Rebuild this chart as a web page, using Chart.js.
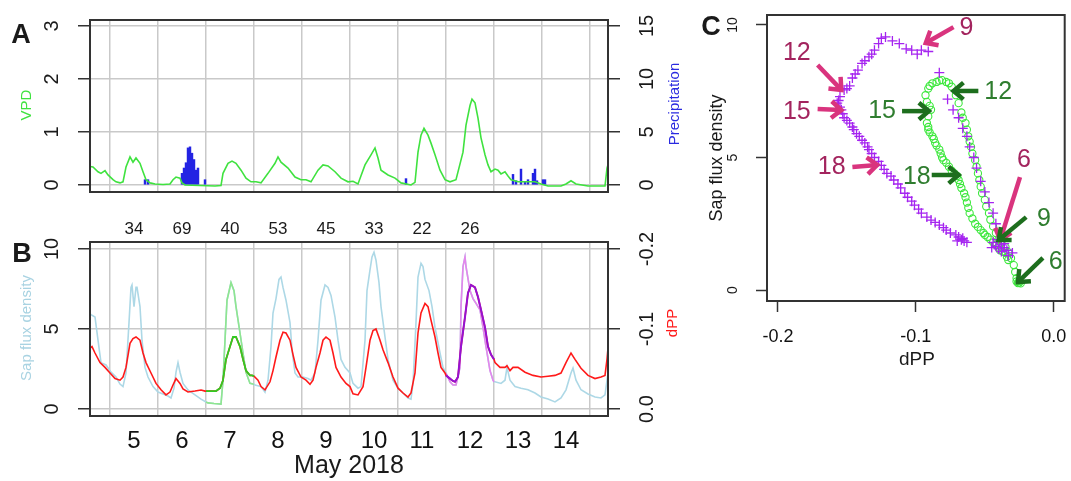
<!DOCTYPE html>
<html><head><meta charset="utf-8">
<script src="https://cdn.jsdelivr.net/npm/chart.js@4.4.0/dist/chart.umd.min.js"></script>
<style>
html,body{margin:0;padding:0;background:#fff;}
#wrap{position:relative;width:1071px;height:481px;overflow:hidden;background:#fff;}
canvas{position:absolute;}
</style></head><body>
<div id="wrap">
<canvas id="cA" width="700" height="200" style="left:0;top:0;width:700px;height:200px"></canvas>
<canvas id="cB" width="700" height="281" style="left:0;top:200px;width:700px;height:281px"></canvas>
<canvas id="cC" width="381" height="481" style="left:690px;top:0;width:381px;height:481px"></canvas>
</div>
<script>
// ---------- DATA (hours since 4 May 2018 00:00) ----------
const gridHours = [24,48,72,96,120,144,168,192,216,240,264];
const dayTickHours = [36,60,84,108,132,156,180,204,228,252];
const dayLabels = ['5','6','7','8','9','10','11','12','13','14'];
const topNumHours = [36,60,84,108,132,156,180,204];
const topNumbers = ['34','69','40','53','45','33','22','26'];
const vpdTicks = [0,1,2,3];
const precipTicks = [0,5,10,15];
const sapTicks = [0,5,10];
const dppTicks = [0,-0.1,-0.2];
const cXTicks = [-0.2,-0.1,0];
const cYTicks = [0,5,10];
const day7 = [72,96];
const day12 = [192,216];

const vpd = [[14,0.35],[15.5,0.34],[18,0.25],[19.5,0.22],[21.5,0.27],[23,0.19],[25.5,0.10],[27,0.06],[29,0.04],[30.5,0.06],
[32,0.34],[34,0.53],[35.5,0.43],[37,0.51],[39,0.41],[40.5,0.25],[42,0.10],[44,0.04],[46.5,0.02],[50.5,0.01],
[54,0.02],[55.5,0.10],[57,0.15],[59,0.13],[60,0.04],[61.5,0.0],[69,-0.01],[76.5,-0.02],[79.5,-0.01],[80.5,0.22],
[83,0.41],[85,0.45],[87,0.41],[89.5,0.28],[92,0.13],[94.5,0.06],[97,0.06],[99.5,0.04],[103,0.22],[106.5,0.41],
[108,0.53],[109.5,0.43],[113,0.32],[116.5,0.15],[119.5,0.10],[122,0.10],[124.5,0.06],[128,0.28],[130.5,0.38],[133,0.36],
[136.5,0.25],[139.5,0.13],[143,0.06],[145.5,0.07],[148,0.02],[151.5,0.38],[154.5,0.57],[156.5,0.70],[158,0.51],[159.5,0.28],
[163,0.19],[166.5,0.13],[169.5,0.04],[174.5,0.0],[176.5,0.05],[178,0.62],[179.5,0.94],[181,1.07],[183,0.94],[184.5,0.79],
[186.5,0.57],[189,0.28],[191.5,0.10],[194,0.06],[197,0.10],[200.5,0.62],[202,1.13],[204,1.50],[205,1.62],[206.5,1.55],
[208,1.26],[209.5,0.89],[211.5,0.57],[213,0.38],[214.5,0.25],[216.5,0.30],[218,0.28],[219.5,0.21],[221.5,0.25],[223,0.17],
[224.5,0.10],[228,0.06],[233,0.06],[236.5,0.06],[239.5,0.02],[243,-0.02],[249.5,-0.02],[252,0.02],[254.5,0.08],[257,0.02],
[263,-0.02],[271.5,-0.02],[272.5,0.32],[273.5,0.45]];

const precip = [[41.5,0.5],[43,0.5],[60,1.1],[61,1.6],[62,2.1],[63,3.5],[64,3.6],[65,3.0],[66,2.4],[67,1.4],[68,1.6],[71.5,0.5],
[172,0.6],[225.5,1.0],[227,0.4],[229.5,1.5],[231.5,0.3],[233,0.5],[235.5,1.1],[236.5,1.5],[237.5,0.4],[240.5,0.5],[241.5,0.5]];

const sapFlux = [[14,5.95],[14.5,5.9],[16.5,5.75],[18,4.3],[19.5,2.9],[22,2.75],[24.5,2.3],[27,2.0],[29,1.56],[30.5,1.4],
[32,2.25],[33.5,5.4],[34.5,7.6],[35,7.75],[36,6.4],[37,7.6],[37.5,7.6],[39,6.4],[40,4.3],[41.5,2.6],[43,2.0],[45.5,1.4],
[48,1.06],[50.5,0.94],[53,0.81],[54.5,0.69],[56,1.3],[57,2.3],[58,2.9],[59,2.3],[60.5,1.6],[63,1.19],[66.5,0.88],[69.5,0.62],
[72,0.44],[73,0.38],[76,0.34],[79.5,0.31],[80.5,1.8],[81.5,4.3],[82.5,6.8],[84.5,7.9],[86,7.4],[87,6.4],[89,4.75],[90.5,3.5],
[92,2.3],[94,1.6],[95.5,1.56],[96,1.55],[96.5,1.5],[99.5,1.4],[101.5,1.06],[103,1.8],[104.5,3.9],[105.5,6.0],[107,6.9],
[108.5,8.1],[109.5,8.25],[110.5,7.6],[112,6.8],[114,5.4],[115,3.7],[116.5,2.25],[118,2.0],[120.5,2.0],[123,1.9],[124.5,1.8],
[126.5,2.25],[128,4.3],[129.5,6.8],[131.5,7.75],[133,7.6],[134.5,7.1],[136.5,5.75],[138,4.3],[139.5,3.1],[141.5,2.6],[144,2.25],
[145.5,1.6],[148,1.3],[149.5,1.4],[151.5,4.3],[152.5,7.4],[154,8.7],[155,9.5],[156,9.8],[157,9.3],[158.5,7.9],[159.5,6.4],
[161.5,4.5],[163,3.1],[165.5,1.8],[168,1.3],[170.5,1.0],[173,0.69],[174.5,0.62],[175.5,1.6],[177,5.4],[178,8.25],[179.5,9.1],
[180.5,8.9],[181.5,8.1],[183.5,7.4],[185,6.4],[186.5,5.1],[189,3.5],[190.5,2.6],[192,2.25],[194,1.7],[195.5,1.5],[197,1.5],
[199,2.6],[199.5,6.4],[200.5,8.9],[201.5,9.5],[202,8.9],[204,7.4],[205.5,6.9],[207,6.6],[209,6.2],[210.5,5.1],[212,3.9],
[214,2.4],[215.5,1.8],[216,1.7],[216.5,1.7],[219.5,1.6],[221.5,1.8],[222.5,2.6],[224,1.8],[226.5,1.4],[229.5,1.3],[233,1.2],
[236.5,1.0],[239.5,0.75],[243,0.62],[246.5,0.44],[249.5,0.69],[252,1.2],[254.5,2.25],[255.5,2.56],[257,1.8],[259.5,1.2],
[263,0.94],[266.5,0.75],[269.5,0.69],[271.5,0.88],[273,2.25]];

const dPP = [[14,-0.076],[15,-0.078],[16.5,-0.070],[19,-0.058],[21.5,-0.052],[24,-0.045],[26.5,-0.038],[29,-0.036],[30.5,-0.040],
[32,-0.052],[34,-0.082],[35.5,-0.088],[37,-0.090],[39,-0.086],[40.5,-0.070],[42,-0.058],[44.5,-0.045],[47,-0.032],[49.5,-0.024],
[52,-0.0176],[54,-0.0212],[55.5,-0.030],[57,-0.038],[59,-0.032],[60.5,-0.025],[63,-0.0212],[66.5,-0.0224],[69.5,-0.0238],
[71.5,-0.0224],[72,-0.0224],[77,-0.0224],[79,-0.026],[80.5,-0.036],[82,-0.062],[84,-0.078],[85.5,-0.090],[87,-0.090],[89,-0.078],
[90.5,-0.062],[92,-0.048],[94,-0.042],[95,-0.042],[96,-0.041],[98,-0.036],[99.5,-0.028],[101.5,-0.024],[104,-0.034],[105.5,-0.048],
[107,-0.065],[109,-0.086],[110.5,-0.096],[112,-0.095],[114,-0.086],[115.5,-0.068],[117,-0.052],[119.5,-0.040],[122,-0.036],
[124,-0.031],[125.5,-0.036],[127,-0.052],[129,-0.070],[130.5,-0.086],[132,-0.090],[134,-0.086],[135.5,-0.070],[137,-0.052],
[139.5,-0.040],[142,-0.032],[144,-0.028],[145.5,-0.019],[148,-0.0176],[150.5,-0.028],[152,-0.052],[154,-0.086],[155.5,-0.098],
[157,-0.100],[159,-0.086],[160.5,-0.074],[163,-0.058],[165.5,-0.040],[168,-0.026],[170.5,-0.020],[173,-0.015],[174.5,-0.020],
[176.5,-0.045],[178,-0.095],[179.5,-0.120],[181.5,-0.132],[183,-0.128],[184.5,-0.111],[186.5,-0.090],[188,-0.070],[189.5,-0.052],
[191.5,-0.045],[192,-0.042],[194,-0.038],[195.5,-0.035],[196.5,-0.034],[198,-0.040],[199.5,-0.078],[201.5,-0.115],[203,-0.145],
[204.5,-0.155],[206.5,-0.152],[208,-0.140],[209.5,-0.124],[211.5,-0.102],[213,-0.078],[214.5,-0.068],[215.5,-0.064],[216,-0.062],
[216.5,-0.058],[219,-0.052],[221.5,-0.052],[222.5,-0.054],[224,-0.048],[225.5,-0.052],[228,-0.052],[231.5,-0.046],[235.5,-0.042],
[239.5,-0.040],[243,-0.041],[246.5,-0.042],[249.5,-0.045],[252,-0.058],[254.5,-0.070],[256.5,-0.062],[259.5,-0.051],[263,-0.042],
[266.5,-0.038],[269.5,-0.040],[271.5,-0.042],[272.5,-0.062],[273.5,-0.090]];

// Panel C: [dPP, sap flux density]
const may12Scatter = [[-0.033,1.3],[-0.030,1.4],[-0.034,1.5],[-0.038,1.45],[-0.036,1.6],[-0.040,1.55],[-0.042,1.65],[-0.038,1.7],
[-0.044,1.8],[-0.041,1.9],[-0.036,1.75],[-0.045,1.6],[-0.042,2.5],[-0.044,2.9],[-0.047,3.3],[-0.050,3.7],[-0.053,4.1],[-0.056,4.6],
[-0.058,5.0],[-0.061,5.4],[-0.063,5.8],[-0.066,6.1],[-0.069,6.5],[-0.073,6.8],[-0.077,7.2],[-0.083,8.2],[-0.091,9.0],[-0.096,9.05],
[-0.099,8.9],[-0.103,9.05],[-0.107,9.1],[-0.112,9.3],[-0.117,9.4],[-0.122,9.55],[-0.125,9.5],[-0.127,9.3],[-0.130,9.05],[-0.132,8.9],
[-0.134,8.8],[-0.137,8.65],[-0.139,8.55],[-0.142,8.3],[-0.144,8.15],[-0.146,8.0],[-0.148,7.7],[-0.150,7.6],[-0.152,7.55],[-0.155,7.3],
[-0.156,7.15],[-0.157,7.05],[-0.155,6.9],[-0.154,6.8],[-0.153,6.65],[-0.152,6.5],[-0.150,6.4],[-0.148,6.3],[-0.146,6.15],[-0.145,6.05],
[-0.143,5.9],[-0.141,5.8],[-0.139,5.65],[-0.137,5.55],[-0.135,5.4],[-0.134,5.3],[-0.132,5.15],[-0.130,5.0],[-0.127,4.85],[-0.125,4.7],
[-0.123,4.55],[-0.121,4.4],[-0.118,4.3],[-0.116,4.15],[-0.113,4.0],[-0.111,3.85],[-0.108,3.65],[-0.106,3.5],[-0.103,3.35],[-0.101,3.2],
[-0.098,3.05],[-0.096,2.9],[-0.092,2.75],[-0.089,2.64],[-0.086,2.55],[-0.083,2.45],[-0.080,2.35],[-0.078,2.26],[-0.075,2.15],
[-0.071,2.08],[-0.069,2.0],[-0.067,1.9],[-0.065,1.85],[-0.063,1.8],[-0.066,1.95],[-0.070,1.85]];

const may7Scatter = [[-0.024,0.25],[-0.025,0.28],[-0.026,0.26],[-0.027,0.32],[-0.025,0.35],[-0.027,0.45],[-0.028,0.68],[-0.029,0.94],
[-0.031,1.2],[-0.033,1.43],[-0.035,1.62],[-0.038,1.78],[-0.040,1.9],[-0.042,2.15],[-0.044,2.4],[-0.046,2.65],[-0.047,2.9],[-0.049,3.15],
[-0.050,3.4],[-0.052,3.65],[-0.053,3.9],[-0.054,4.15],[-0.055,4.4],[-0.056,4.65],[-0.057,4.9],[-0.059,5.15],[-0.060,5.4],[-0.061,5.6],
[-0.062,5.8],[-0.063,6.05],[-0.064,6.3],[-0.066,6.5],[-0.067,6.7],[-0.069,7.05],[-0.071,7.35],[-0.074,7.67],[-0.076,7.8],[-0.078,7.85],
[-0.081,7.92],[-0.083,7.9],[-0.085,7.85],[-0.088,7.8],[-0.090,7.7],[-0.091,7.6],[-0.093,7.35],[-0.092,7.1],[-0.090,6.95],[-0.089,6.8],
[-0.091,6.55],[-0.092,6.3],[-0.091,6.15],[-0.091,6.05],[-0.090,5.95],[-0.088,5.8],[-0.087,5.7],[-0.086,5.55],[-0.085,5.45],[-0.083,5.3],
[-0.082,5.15],[-0.081,5.0],[-0.080,4.9],[-0.078,4.8],[-0.076,4.65],[-0.074,4.5],[-0.072,4.4],[-0.070,4.3],[-0.069,4.15],[-0.068,4.0],
[-0.067,3.85],[-0.065,3.65],[-0.064,3.5],[-0.063,3.3],[-0.062,3.1],[-0.061,2.9],[-0.059,2.7],[-0.057,2.5],[-0.055,2.38],[-0.053,2.26],
[-0.051,2.15],[-0.050,2.08],[-0.048,2.0],[-0.046,1.9],[-0.044,1.8],[-0.042,1.7],[-0.040,1.6],[-0.039,1.5],[-0.037,1.45],[-0.035,1.4],
[-0.034,1.25],[-0.033,1.13]];

// Panel C hour annotations (data coordinates)
const pinkLabels = ['9','12','15','18','6'];
const pinkLabelAt = [[-0.0633,9.87],[-0.1863,8.94],[-0.1863,6.72],[-0.161,4.64],[-0.0216,4.9]];
const pinkFrom = [[-0.0727,9.92],[-0.1712,8.49],[-0.1712,6.83],[-0.146,4.64],[-0.0245,4.26]];
const pinkTo = [[-0.0928,9.32],[-0.154,7.55],[-0.154,6.79],[-0.128,4.72],[-0.0388,1.89]];
const greenLabels = ['12','15','18','9','6'];
const greenLabelAt = [[-0.0403,7.47],[-0.1245,6.75],[-0.0993,4.26],[-0.0072,2.68],[0.0014,1.06]];
const greenFrom = [[-0.0547,7.51],[-0.110,6.75],[-0.0885,4.34],[-0.020,2.75],[-0.0079,1.21]];
const greenTo = [[-0.0727,7.51],[-0.0906,6.75],[-0.069,4.34],[-0.040,1.89],[-0.026,0.30]];

// ---------- helpers ----------
const FONT = '"Liberation Sans", Arial, sans-serif';
Chart.defaults.font.family = FONT;
const xy = arr => arr.map(p => ({x:p[0], y:p[1]}));
const inDay = (arr, d) => arr.filter(p => p[0] >= d[0] && p[0] <= d[1]);
const setTicks = vals => (s => { s.ticks = vals.map(v => ({value:v})); });
const fixW = w => (s => { s.width = w; s.paddingTop = 0; s.paddingBottom = 0; });
const fixH = h => (s => { s.height = h; s.paddingLeft = 0; s.paddingRight = 0; });
const GRID = '#c9c9c9';
const AX = '#333';

const decor = {
  id:'decor',
  afterDraw(chart, args, o){
    const ctx = chart.ctx, ca = chart.chartArea;
    ctx.save();
    ctx.strokeStyle = AX; ctx.lineWidth = 2;
    ctx.strokeRect(ca.left, ca.top, ca.right-ca.left, ca.bottom-ca.top);
    (o.rticks||[]).forEach(r => {
      const s = chart.scales[r.axis];
      ctx.font = r.font; ctx.fillStyle = '#1a1a1a'; ctx.textAlign='center'; ctx.textBaseline='middle';
      r.values.forEach((v,i) => {
        ctx.save(); ctx.translate(r.x, s.getPixelForValue(v)); ctx.rotate(-Math.PI/2);
        ctx.fillText(r.labels[i], 0, 0); ctx.restore();
      });
    });
    (o.xtexts||[]).forEach(r => {
      const s = chart.scales[r.axis];
      ctx.font = r.font; ctx.fillStyle = '#1a1a1a'; ctx.textAlign='center'; ctx.textBaseline='middle';
      r.values.forEach((v,i) => ctx.fillText(r.labels[i], s.getPixelForValue(v), r.y));
    });
    (o.texts||[]).forEach(t => {
      ctx.font = t.font; ctx.fillStyle = t.color || '#1a1a1a'; ctx.textAlign='center'; ctx.textBaseline='middle';
      ctx.save(); ctx.translate(t.x, t.y); if (t.rot) ctx.rotate(-Math.PI/2);
      ctx.fillText(t.text, 0, 0); ctx.restore();
    });
    (o.arrows||[]).forEach(g => {
      const sx = chart.scales.x, sy = chart.scales.y;
      g.labels.forEach((lab,i) => {
        const x1 = sx.getPixelForValue(g.from[i][0]), y1 = sy.getPixelForValue(g.from[i][1]);
        const x2 = sx.getPixelForValue(g.to[i][0]), y2 = sy.getPixelForValue(g.to[i][1]);
        ctx.strokeStyle = g.arrowColor; ctx.lineWidth = 4.5; ctx.lineCap='butt'; ctx.lineJoin='miter';
        ctx.beginPath(); ctx.moveTo(x1,y1); ctx.lineTo(x2,y2); ctx.stroke();
        const a = Math.atan2(y2-y1, x2-x1), L = 13, w = 0.7;
        ctx.beginPath();
        ctx.moveTo(x2 - L*Math.cos(a-w), y2 - L*Math.sin(a-w));
        ctx.lineTo(x2, y2);
        ctx.lineTo(x2 - L*Math.cos(a+w), y2 - L*Math.sin(a+w));
        ctx.stroke();
        ctx.font = '25px ' + FONT; ctx.fillStyle = g.textColor; ctx.textAlign='center'; ctx.textBaseline='middle';
        ctx.fillText(lab, sx.getPixelForValue(g.at[i][0]), sy.getPixelForValue(g.at[i][1]));
      });
    });
    ctx.restore();
  }
};
Chart.register(decor);

const yGrid = (onArea) => ({display:true, drawOnChartArea:onArea, color:GRID, lineWidth:1.5, drawTicks:true, tickLength:12, tickColor:AX, tickWidth:1.5});

// ---------- Panel A ----------
new Chart(document.getElementById('cA'), {
  type:'line',
  data:{datasets:[
    {type:'line', data:xy(vpd), yAxisID:'y', borderColor:'#3fe23f', borderWidth:1.6, pointRadius:0, tension:0},
    {type:'bar', data:xy(precip), yAxisID:'y1', backgroundColor:'#2323e3', barThickness:1.8}
  ]},
  options:{
    responsive:false, animation:false, events:[],
    layout:{padding:{top:20,left:0,right:0,bottom:0}},
    plugins:{legend:{display:false}, tooltip:{enabled:false},
      decor:{
        rticks:[{axis:'y', x:52, values:vpdTicks, labels:vpdTicks.map(String), font:'20px '+FONT},
                {axis:'y1', x:647, values:precipTicks, labels:precipTicks.map(String), font:'20px '+FONT}],
        texts:[{text:'A', x:21, y:36, font:'bold 27px '+FONT},
               {text:'VPD', x:27, y:105, rot:true, color:'#3fe23f', font:'15px '+FONT},
               {text:'Precipitation', x:675, y:104, rot:true, color:'#2a2ae0', font:'15px '+FONT}]
      }},
    scales:{
      x:{type:'linear', offset:false, min:14, max:273, afterBuildTicks:setTicks(gridHours), afterFit:fixH(8),
         ticks:{display:false}, grid:{offset:false, color:GRID, lineWidth:1.5, drawTicks:false}, border:{display:false}},
      y:{position:'left', min:-0.132, max:3.113, afterBuildTicks:setTicks(vpdTicks), afterFit:fixW(90),
         ticks:{display:false}, grid:yGrid(true), border:{display:false}},
      y1:{position:'right', min:-0.66, max:15.565, afterBuildTicks:setTicks(precipTicks), afterFit:fixW(92),
         ticks:{display:false}, grid:yGrid(false), border:{display:false}}
    }
  }
});

// ---------- Panel B ----------
new Chart(document.getElementById('cB'), {
  type:'line',
  data:{datasets:[
    {data:xy(inDay(dPP, day12)), yAxisID:'y1', borderColor:'#9512d2', borderWidth:2, pointRadius:0, tension:0},
    {data:xy(inDay(dPP, day7)), yAxisID:'y1', borderColor:'#2fcc22', borderWidth:1.8, pointRadius:0, tension:0},
    {data:xy(dPP), yAxisID:'y1', borderColor:'#ff1a1a', borderWidth:1.6, pointRadius:0, tension:0},
    {data:xy(inDay(sapFlux, day12)), yAxisID:'y', borderColor:'#e486ec', borderWidth:1.6, pointRadius:0, tension:0},
    {data:xy(inDay(sapFlux, day7)), yAxisID:'y', borderColor:'#8fe68f', borderWidth:1.6, pointRadius:0, tension:0},
    {data:xy(sapFlux), yAxisID:'y', borderColor:'#add8e6', borderWidth:1.6, pointRadius:0, tension:0}
  ]},
  options:{
    responsive:false, animation:false, events:[],
    layout:{padding:{top:42,left:0,right:0,bottom:0}},
    plugins:{legend:{display:false}, tooltip:{enabled:false},
      decor:{
        rticks:[{axis:'y', x:52, values:sapTicks, labels:sapTicks.map(String), font:'20px '+FONT},
                {axis:'y1', x:647, values:dppTicks, labels:dppTicks.map(v=>v.toFixed(1)), font:'20px '+FONT}],
        xtexts:[{axis:'xl', y:29, values:topNumHours, labels:topNumbers, font:'17px '+FONT}],
        texts:[{text:'B', x:22, y:55, font:'bold 27px '+FONT},
               {text:'Sap flux density', x:27, y:128, rot:true, color:'#a9d3e2', font:'15px '+FONT},
               {text:'dPP', x:673, y:123, rot:true, color:'#ff1a1a', font:'15px '+FONT},
               {text:'May 2018', x:349, y:266, font:'25px '+FONT}]
      }},
    scales:{
      x:{type:'linear', min:14, max:273, afterBuildTicks:setTicks(gridHours), afterFit:fixH(0),
         ticks:{display:false}, grid:{color:GRID, lineWidth:1.5, drawTicks:false}, border:{display:false}},
      xl:{type:'linear', position:'bottom', min:14, max:273, afterBuildTicks:setTicks(dayTickHours), afterFit:fixH(65),
         ticks:{display:true, padding:3, color:'#111', font:{size:24, family:FONT}, maxRotation:0, autoSkip:false,
                callback:(v,i)=>dayLabels[i]},
         grid:{display:false}, border:{display:false}},
      y:{position:'left', min:-0.4375, max:10.4375, afterBuildTicks:setTicks(sapTicks), afterFit:fixW(90),
         ticks:{display:false}, grid:yGrid(true), border:{display:false}},
      y1:{position:'right', reverse:true, min:-0.20875, max:0.00875, afterBuildTicks:setTicks(dppTicks), afterFit:fixW(92),
         ticks:{display:false}, grid:yGrid(false), border:{display:false}}
    }
  }
});

// ---------- Panel C ----------
new Chart(document.getElementById('cC'), {
  type:'scatter',
  data:{datasets:[
    {data:xy(may12Scatter), pointStyle:'cross', pointRadius:5, borderColor:'#a524f0', borderWidth:1.3, backgroundColor:'#a524f0'},
    {data:xy(may7Scatter), pointStyle:'circle', pointRadius:3.6, borderColor:'#3de83d', borderWidth:1.1, backgroundColor:'rgba(0,0,0,0)'}
  ]},
  options:{
    responsive:false, animation:false, events:[],
    layout:{padding:{top:15,left:0,right:4,bottom:0}},
    plugins:{legend:{display:false}, tooltip:{enabled:false},
      decor:{
        rticks:[{axis:'y', x:43, values:cYTicks, labels:cYTicks.map(String), font:'14px '+FONT}],
        texts:[{text:'C', x:21, y:28, font:'bold 27px '+FONT},
               {text:'Sap flux density', x:27, y:158, rot:true, font:'18px '+FONT},
               {text:'dPP', x:227, y:360, font:'19px '+FONT}],
        arrows:[{labels:pinkLabels, at:pinkLabelAt, from:pinkFrom, to:pinkTo, arrowColor:'#d9347e', textColor:'#a3245e'},
                {labels:greenLabels, at:greenLabelAt, from:greenFrom, to:greenTo, arrowColor:'#1d6e1d', textColor:'#2f7d2f'}]
      }},
    scales:{
      x:{type:'linear', min:-0.2079, max:0.0079, afterBuildTicks:setTicks(cXTicks), afterFit:fixH(180),
         ticks:{display:true, padding:14, color:'#111', font:{size:18, family:FONT}, maxRotation:0, autoSkip:false,
                callback:v=>v.toFixed(1)},
         grid:{display:true, drawOnChartArea:false, drawTicks:true, tickLength:11, tickColor:AX, tickWidth:1.5}, border:{display:false}},
      y:{min:-0.415, max:10.377, afterBuildTicks:setTicks(cYTicks), afterFit:fixW(77),
         ticks:{display:false},
         grid:{display:true, drawOnChartArea:false, drawTicks:true, tickLength:11, tickColor:AX, tickWidth:1.5}, border:{display:false}}
    }
  }
});
</script>
</body></html>
